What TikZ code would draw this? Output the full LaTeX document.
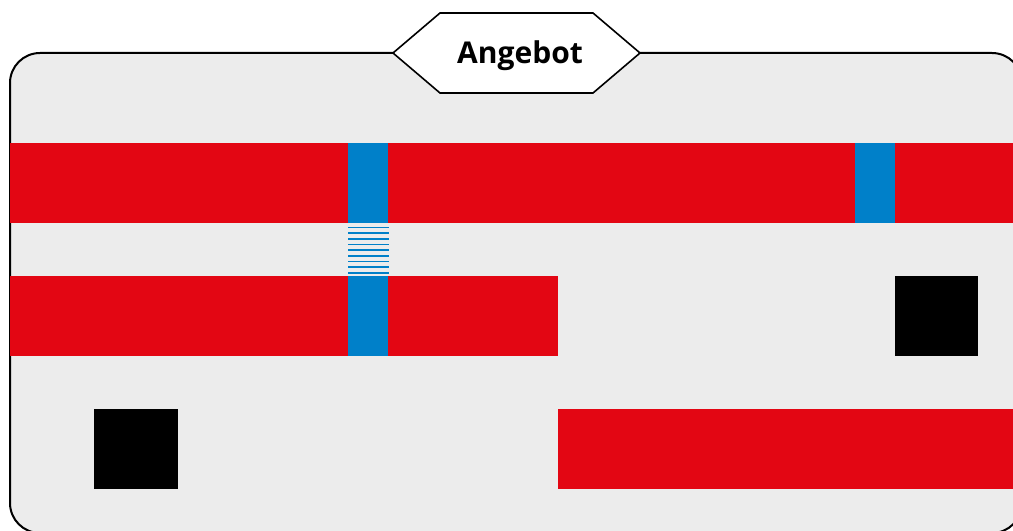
\documentclass[tikz,border=0pt]{standalone}
\usepackage{fontspec}
\setmainfont{Open Sans}
\definecolor{barred}{HTML}{E30613}
\definecolor{barblue}{HTML}{0080C9}
\definecolor{panelgray}{HTML}{ECECEC}

\begin{document}
\begin{tikzpicture}[x=0.75pt,y=-0.75pt,
        panel/.style={draw=black, line width=1.5pt, fill=panelgray, rounded corners=22.5pt},
        tag/.style={draw=black, line width=1.2pt, fill=white},
        redbar/.style={fill=barred},
        bluebar/.style={fill=barblue},
        block/.style={fill=black},
        rung/.style={draw=barblue, line width=1.2pt}]
        \useasboundingbox (0,0) rectangle (1013,531);
        \clip (0,0) rectangle (1013,531);

        % panel and title tag
        \path[panel] (10,53) rectangle (1022,533);
        \path[tag] (393,53) -- (440,13) -- (593,13) -- (640,53) -- (593,93) -- (440,93) -- cycle;
        \node[anchor=base, font=\bfseries\fontsize{22.5}{26}\selectfont, inner sep=0pt] (offer) at (520,63.5) {Angebot};

        % row 1
        \fill[redbar] (10,143) rectangle (1013,223);
        \fill[bluebar] (348,143) rectangle (388,223);
        \fill[bluebar] (855,143) rectangle (895,223);

        % link between row 1 and row 2
        \foreach \i in {0,...,8}
            \draw[rung] (348,227.5+\i*5.67) -- (389,227.5+\i*5.67);

        % row 2
        \fill[redbar] (10,276) rectangle (558,356);
        \fill[bluebar] (348,276) rectangle (388,356);
        \fill[block] (895,276) rectangle (978,356);

        % row 3
        \fill[block] (94,409) rectangle (178,489);
        \fill[redbar] (558,409) rectangle (1013,489);
\end{tikzpicture}
\end{document}
